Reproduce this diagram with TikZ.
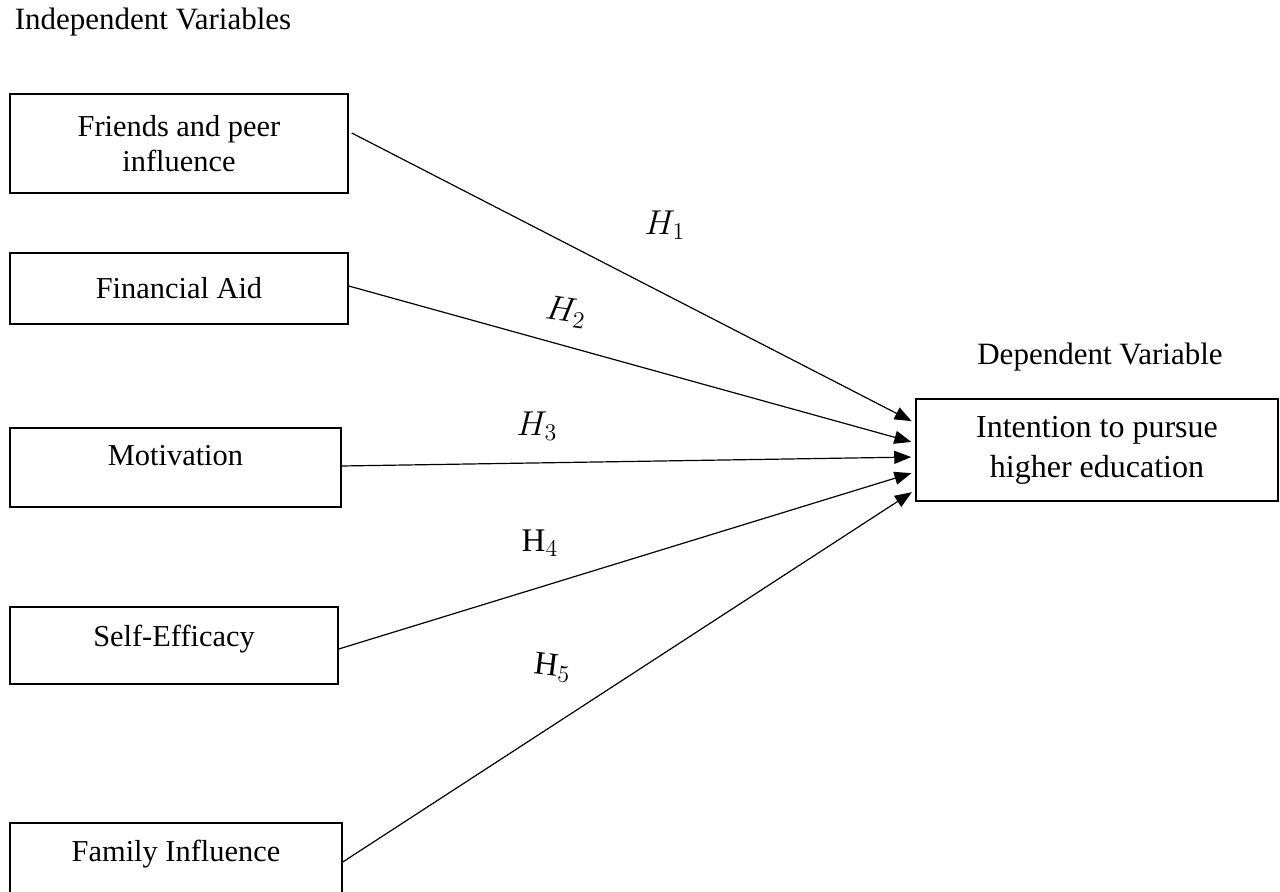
\documentclass[tikz,border=0pt]{standalone}
\usepackage{amsmath}
\usepackage{fontspec}
\setmainfont{Liberation Serif}
\usepackage{tikz}
\usetikzlibrary{positioning, calc, arrows.meta}
\tikzset{
    varbox/.style={
        draw, line width=0.75pt, align=center, inner sep=2pt,
        font=\fontsize{15.2}{17.5}\selectfont
    },
    depbox/.style={
        draw, line width=0.75pt, align=center, inner sep=2pt,
        font=\fontsize{16}{20}\selectfont
    },
    hyparrow/.style={
        -{Triangle[length=8.5pt, width=6.5pt]}, line width=0.6pt,
        shorten >=2pt
    },
    hyplabel/.style={
        font=\fontsize{16.5}{18}\selectfont, inner sep=0pt
    },
    headtext/.style={
        font=\fontsize{15.5}{18}\selectfont, inner sep=0pt
    }
}

\begin{document}
\begin{tikzpicture}[x=0.5pt, y=-0.5pt]
    \useasboundingbox (0,0) rectangle (1280,892);

    % --- Bien doc lap ---
    \node[headtext] (indep) at (153,22) {Independent Variables};
    \node[varbox, minimum width=169pt, minimum height=49.5pt] (friends) at (179,143.5) {Friends and peer\\influence};
    \node[varbox, minimum width=169pt, minimum height=35.5pt] (aid) at (179,288.5) {Financial Aid};
    \node[varbox, minimum width=165.5pt, minimum height=39.5pt, text depth=12pt] (motiv) at (175.5,467.5) {Motivation};
    \node[varbox, minimum width=164pt, minimum height=38.5pt, text depth=10pt] (selfeff) at (174,645.5) {Self-Efficacy};
    \node[varbox, minimum width=166pt, minimum height=41pt, text depth=13pt] (family) at (176,864) {Family Influence};

    % --- Bien phu thuoc ---
    \node[headtext] (dep) at (1100,357) {Dependent Variable};
    \node[depbox, minimum width=181pt, minimum height=51pt] (intent) at (1097,450) {Intention to pursue\\higher education};

    % Mui ten gia thuyet
    \draw[hyparrow] ([xshift=1.5pt, yshift=5.25pt]friends.east) -- ([yshift=13.5pt]intent.west);
    \draw[hyparrow] ([yshift=1.25pt]aid.east) -- ([yshift=3.5pt]intent.west);
    \draw[hyparrow] ([yshift=0.75pt]motiv.east) -- ([yshift=-3.5pt]intent.west);
    \draw[hyparrow] ([yshift=-1.75pt]selfeff.east) -- ([yshift=-11pt]intent.west);
    \draw[hyparrow] ([yshift=1pt]family.east) -- ([yshift=-20pt]intent.west);

    \node[hyplabel] (h1) at (665,225) {$H_1$};
    \node[hyplabel, rotate=-8] (h2) at (566,312) {$H_2$};
    \node[hyplabel] (h3) at (537,426) {$H_3$};
    \node[hyplabel] (h4) at (540,543) {$\mathrm{H}_4$};
    \node[hyplabel, rotate=-7] (h5) at (553,668) {$\mathrm{H}_5$};
\end{tikzpicture}
\end{document}
